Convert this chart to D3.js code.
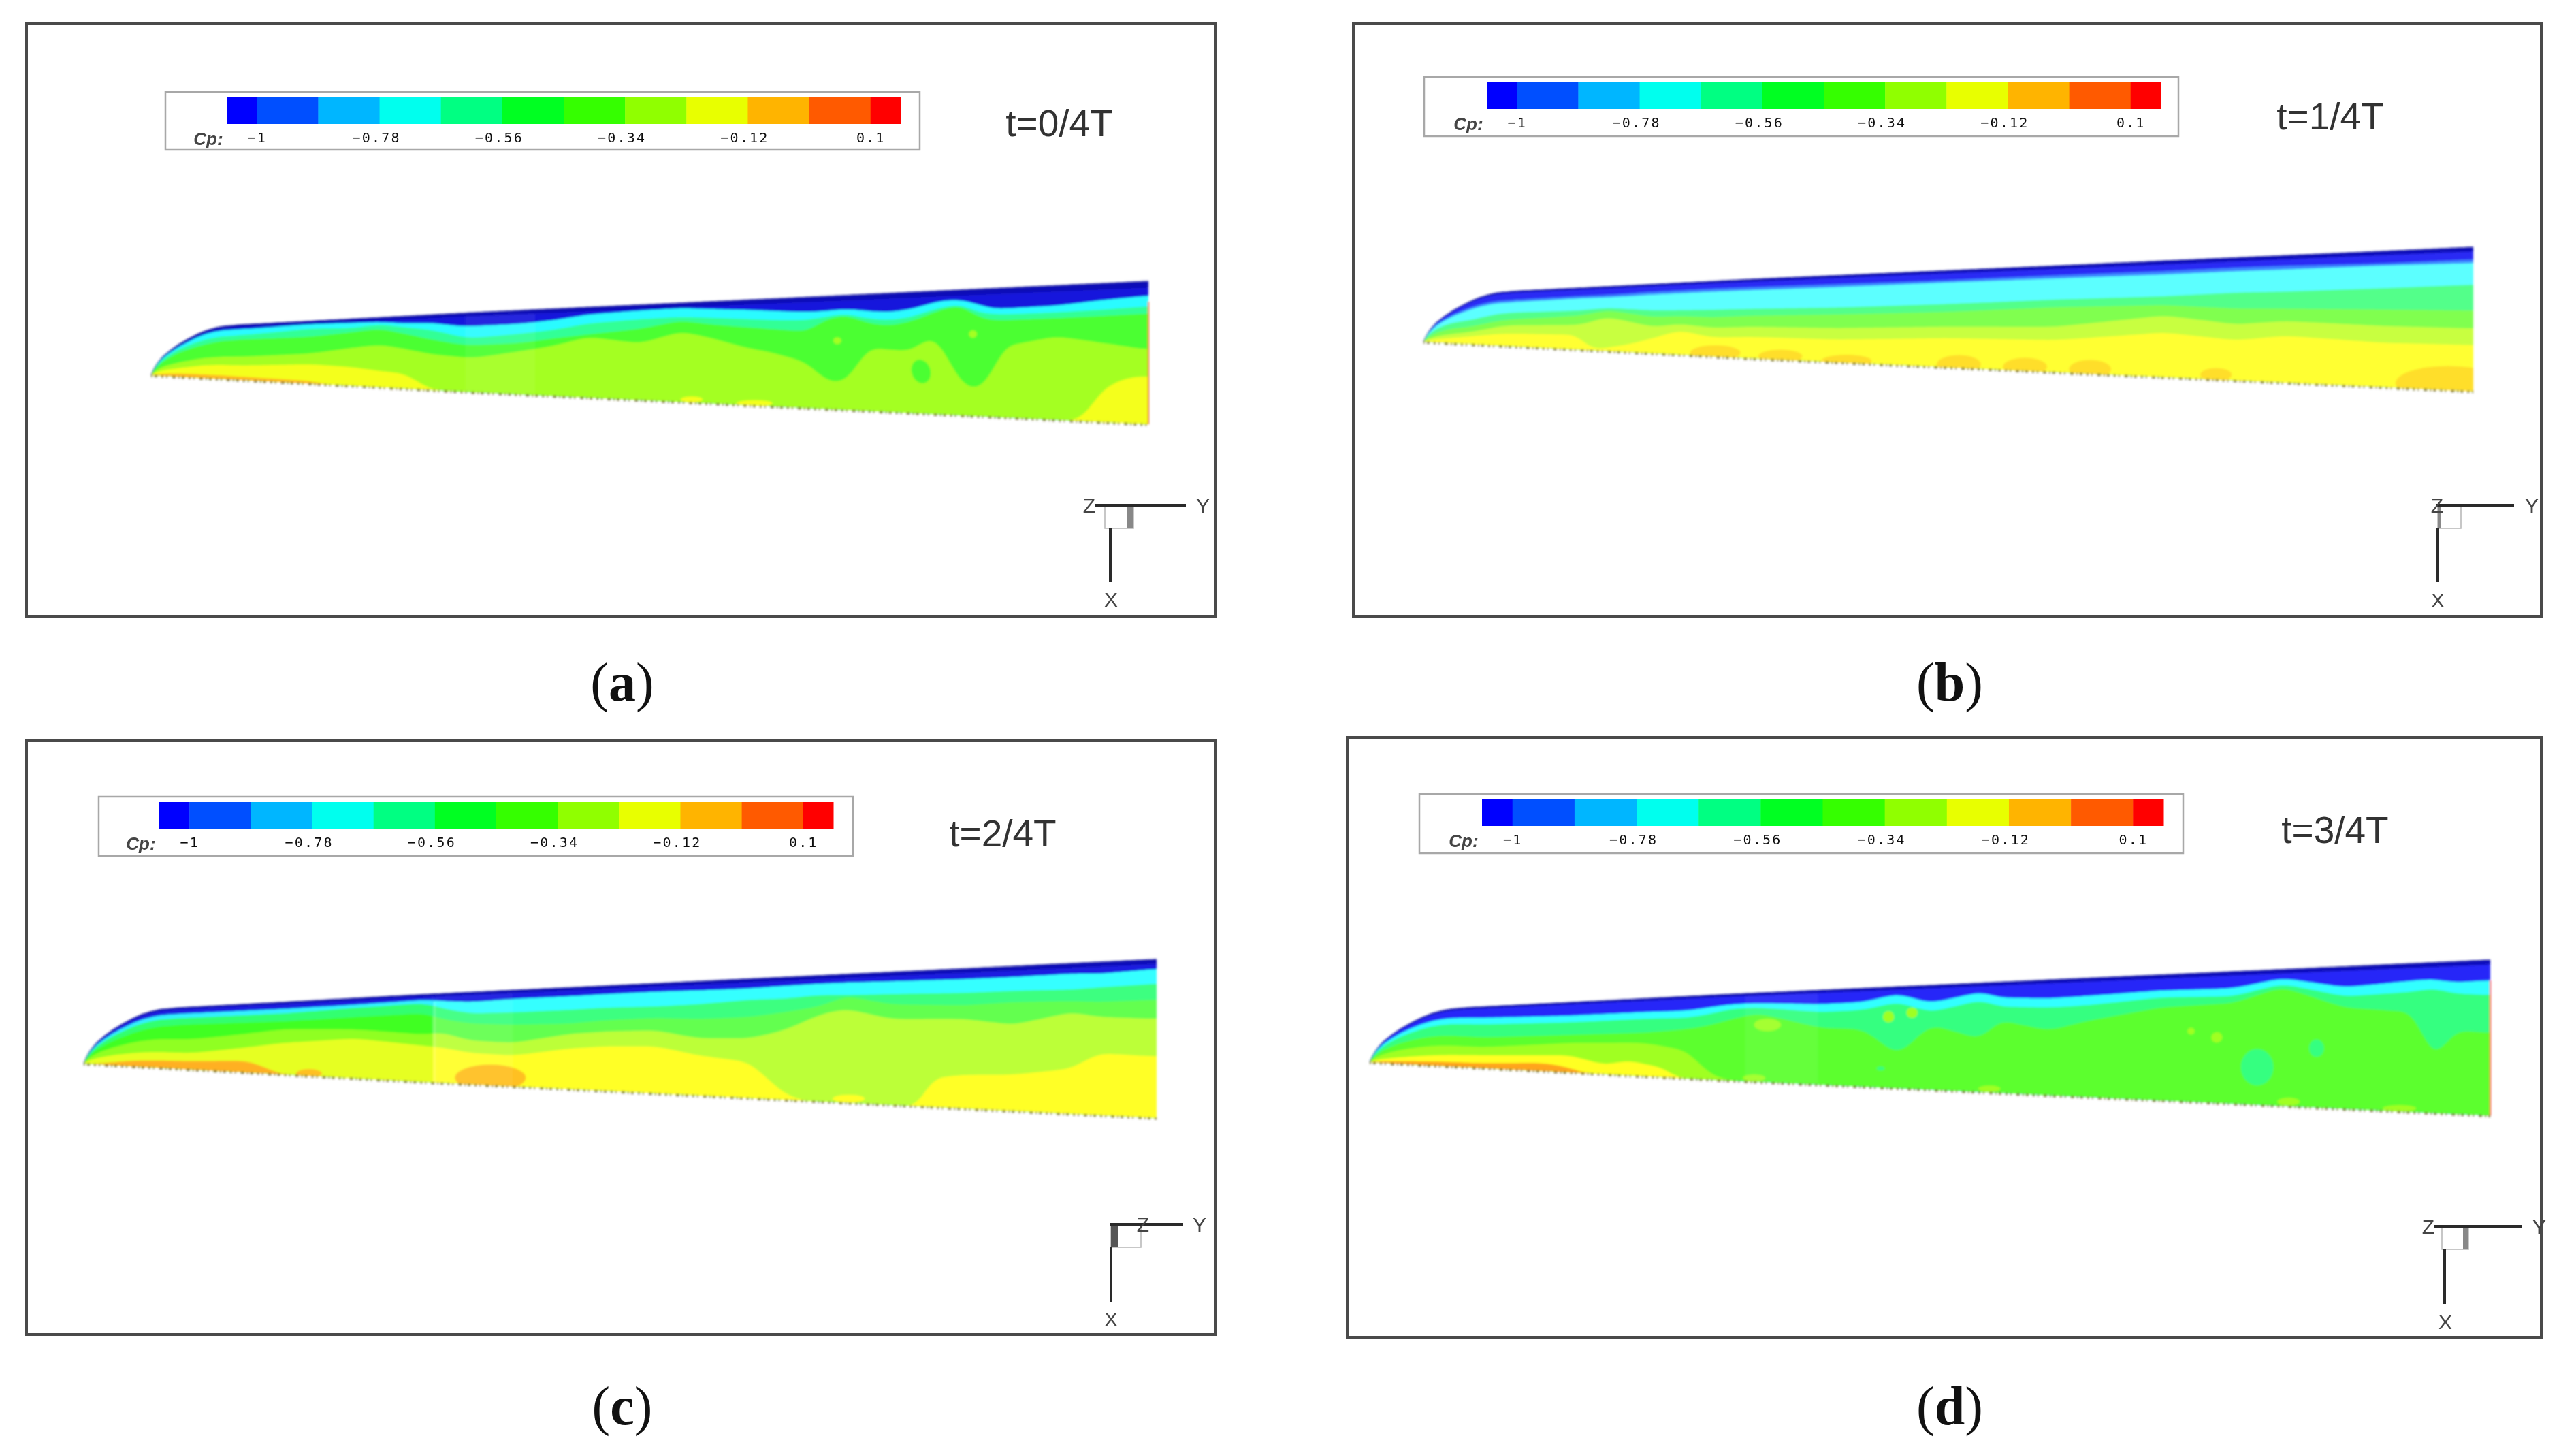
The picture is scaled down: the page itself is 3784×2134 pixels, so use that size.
<!DOCTYPE html>
<html><head><meta charset="utf-8">
<script src="https://cdnjs.cloudflare.com/ajax/libs/d3/7.8.5/d3.min.js"></script>
<style>html,body{margin:0;padding:0;background:#fff}svg{display:block}</style>
</head><body><svg id="chart" width="3784" height="2134"></svg>
<script>
// ---------- colour bar data ----------
const cpEdges = [-1.054,-1,-0.89,-0.78,-0.67,-0.56,-0.45,-0.34,-0.23,-0.12,-0.01,0.1,0.154];
const cpColours = ["#0000ff","#0650ff","#00b6ff","#00ffee","#00ff82","#00ff20","#35ff00","#90ff00","#e8ff00","#ffb400","#ff5a00","#ff0000"];
const cpTicks = [-1,-0.78,-0.56,-0.34,-0.12,0.1];
const cpTickLabels = ["−1","−0.78","−0.56","−0.34","−0.12","0.1"];
const axisNames = ["X","Y","Z"];

// ---------- wing outline (span %, leading edge rise, trailing edge drop) ----------
const wingSpan = [0,0.2,0.6,1.2,2,2.8,3.7,4.6,5.5,6.4,7.2,8.9,12,19.4,31.2,100];
const wingLE   = [0,0.05,0.125,0.2,0.27,0.33,0.385,0.435,0.475,0.503,0.52,0.536,0.553,0.594,0.66,1];
const wingTE   = [0,0.001,0.003,0.007,0.011,0.016,0.021,0.026,0.031,0.036,0.04,0.05,0.067,0.108,0.174,0.522];

// ---------- contour lines: chord position (% from leading edge) at span stations (%) ----------
// t = 0/4 T
const aEta = [0,2,5.5,8.9,15.9,20,22.9,25.3,28.1,31,32,36.8,40.3,43.75,49,53.1,56.24,59.4,62.5,65.7,67.8,69.7,71.9,74,76.3,77.9,79.1,80.7,81.3,82.9,84.4,85.4,90.7,95.4,100];
const aBlue  = [8,8,7,8,5,6,6.5,10,11,16.7,17,16,13,8,6,5.3,7.5,9.3,11.5,13.6,13,12,14.5,16,13.8,10.5,8,7.7,8,12,16,16,15,12,10];
const aCyan  = [15,15,19,19,12,13.4,10,15,20,30,32,28,24,18,15,14,16,18,20,20.8,18,16,21,22.7,20.4,16,13.7,11.7,12,18.3,20,20.5,20,19,17.5];
const aAqua  = [26,26,29,27,25,20,16,24,33,40,41,39,34,30,25,18,22.7,25.6,28.4,31,20,17.4,25,27.5,24,19,15.5,12.8,13,22,25,25,24.3,23.5,22.6];
const aGreen = [50,56,58,58,52,43.6,39,45,52.7,56,57.5,49,42.6,33,40.5,29,36,45,50.6,59,76,75.5,45.7,47.7,48.7,37.5,42,68,75,80,65.7,45.3,38,43,48];
const aLimeEta = [0,2,5.5,8.9,15.9,20,22.9,25.3,28.1,29,92.8,93.9,95.4,97.9,100];
const aLime    = [70,74,73,74,69,72,77,79,100,100,100,93,76,67.5,66.5];
const aYellowEta = [0,2,5.5,8.9,15.9,17.5,100];
const aYellow    = [90,90,93,94,96,100,100];
// t = 1/4 T
const bEta = [0,1,4.5,8,15,17.4,21.9,24.3,27.5,31.2,39.2,49.7,60,70.5,77.4,82,91.3,100];
const bBlue  = [10,10,15,15.6,13,13,11,10.7,10,10,10,10,9,8.8,8,8,9,8.6];
const bMid   = [15,15,20,20,16.6,16.7,15,14.5,14,13.8,13.4,12.2,12,11.7,11,11,10.5,11];
const bCyan  = [30,30,45,38.8,36.5,33,38,38,38,37.4,37,34.6,31.7,30.3,28.5,28.4,27.3,26];
const bAqua  = [50,50,60,51.5,44.7,36.6,47.6,46,48,46,44.9,42.8,39,38,41.5,41.8,43,44];
const bGreen = [70,70,72,62,60,47,62,57,62,60,60.6,58,57.4,47,54.4,51.6,55,56.4];
const bLimeEta = [0,1,4.5,8,15,15.6,19.1,21.9,24.3,27.5,31.2,39.2,49.7,60,70.5,77.4,82,91.3,100];
const bLime    = [85,85,82,77,76,100,90,78,66,75,73,74,70,70,61.6,67.4,63.2,67.4,68];
// t = 2/4 T
const cEta = [0,2.5,9.9,18.6,25.2,31.9,33.2,36,40,45.3,48.6,53.3,57.3,62,65.3,68.6,71,75.3,82,86.6,92,94.6,100];
const cBlue  = [10,10,10,9.4,8,6,8,10.6,9,8.7,8,7.6,8,8,7,6.5,6.5,7,7.6,7.5,6.8,7.6,6];
const cCyan  = [18,18,17,15.7,12,10,16,23,23,22,20.8,21,20,17.5,17.5,15.5,16.3,16.6,17.4,17,17.4,16.5,15.3];
const cAqua  = [32,32,28,26.7,23.5,21.5,28,34,36,35.6,32.7,31.4,33,32,28.6,24.5,17,24.3,26.3,24.8,25,26,25.4];
const cGreen = [50,50,52,37.6,39,46,43,52.6,54.8,45.6,43.5,42.8,50,50,43.4,31,27,35.4,36,40.5,32.5,35.8,37.6];
const cLimeEta = [0,2.5,9.9,18.6,25.2,31.9,33.2,36,40,45.3,48.6,53.3,57.3,62,65.3,67,78.2,78.5,80,82,86.6,92,94.6,100];
const cLime    = [72,72,74,56.4,50.4,59,60,66,68,60,57.6,57.2,65,70,95.4,100,100,81,78,76,75,70,59.6,61.3];
const cYellowEta = [0,3.8,9.9,15.2,17.2,18.2,100];
const cYellow    = [100,89,87,83,93,100,100];
// t = 3/4 T
const dEta = [0,2,9.9,17.8,24.4,28.3,30.3,32.3,34.6,40.2,44.1,47.1,50,54.7,56,60.6,64,70.5,77,81.4,87,93.2,94.9,96.8,100];
const dBlue  = [12,12,18,19,17.4,17.5,14.4,11.6,11.3,14.9,13.9,7,17,8,14,16.2,15,12.5,12.7,6.5,14.5,11.5,11,13.8,13];
const dCyan  = [22,22,29,28.6,26,26,22.5,16.8,16.4,23.3,22,15,25.7,15.4,22,24,22.8,18,18.7,10.6,21,19,17,21,22.6];
const dAqua  = [40,40,50,46.4,44,40,36,28.7,22.8,40,41.6,68,37.7,52,34,44,36,26,23.9,13,28.9,32.8,66,45,47];
const dGreenEta = [0,2,9.9,17.8,24.4,28.3,30.3,32,100];
const dGreen    = [60,60,66,58,57,66,94,100,100];
const dLimeEta = [0,2,9.9,17.8,21,23,25,26.5,27,100];
const dLime    = [82,82,79.5,75.6,88,80,86,88,100,100];
const dYellowEta = [0,2,9.9,15.5,17.8,19,100];
const dYellow    = [93,93,92.5,88,93,100,100];

// ---------- isolated contour islands: span %, chord %, half-widths ----------
const aIslands = {eta:[77.2,68.8,82.4,54.2,60.5], chord:[65.5,39.6,35.3,97,98], rEta:[0.94,0.4,0.4,1.1,1.8], rChord:[10,3,3,3,3], band:[3,4,4,5,5], tilt:[-18,0,0,0,0]};
const bIslands = {eta:[27.8,34,40.3,51,57.3,63.5,75.5,97.6], chord:[95,95.8,98,96.5,96,95.8,96,95], rEta:[2.4,2.1,2.4,2.1,2.1,2,1.5,5], rChord:[10,8,7,9.5,8.5,8.5,5.5,12], band:[7,7,7,7,7,7,7,7], tilt:[0,0,0,0,0,0,0,0]};
const cIslands = {eta:[37.9,21,71.3], chord:[92,97,96.8], rEta:[3.3,1.2,1.5], rChord:[14,6,3], band:[6,6,5], tilt:[0,0,0]};
const dIslands = {eta:[79.2,84.5,45.6,46.3,48.4,73.3,75.6,34.3,55.3,82,91.9,35.5], chord:[72,57.5,81,29.5,26,45,49.8,96,96.7,96.7,98,36], rEta:[1.45,0.66,0.35,0.5,0.5,0.33,0.5,1,1,1,1.5,1.2], rChord:[13.6,6.2,2,5.7,5,2.7,4,4,3,3,2.2,7], band:[2,2,2,4,4,4,4,4,4,4,4,4], tilt:[0,0,0,0,0,0,-8,0,0,0,0,0]};

// ---------- panels: layout and styling ----------
const panels = [
 {name:"a", title:"t=0/4T", frame:[39,34,1786,905], wing:[222,551,1687,413],
  legendBox:[243,135,1351,220], bar:[333,143,1323,182], titleAt:[1556,180], caption:[914,1029],
  triad:{y:742,h0:1608,h1:1742,box:[1623,1665,776],bar:[1656,1665,"#888"],xx:1631,xEnd:855,Z:[1600,742],Y:[1767,742],X:[1632,880]},
  contours:[[aEta,aBlue],[aEta,aCyan],[aEta,aAqua],[aEta,aGreen],[aLimeEta,aLime],[aYellowEta,aYellow]],
  colours:["#1818dc","#2cfbff","#32ff96","#4cff32","#a4ff22","#f4ff1e","#ffb820"],
  islands:aIslands, seam:[31.4,38.5], navy:4.5, tipEdge:"#e8602c"},
 {name:"b", title:"t=1/4T", frame:[1988,34,3733,905], wing:[2091,502,3633,363],
  legendBox:[2092,113,3200,200], bar:[2184,121,3174,160], titleAt:[3423,170], caption:[2864,1029],
  triad:{y:742,h0:3578,h1:3693,box:[3581,3615,776],bar:[3581,3586,"#888"],xx:3581,xEnd:855,Z:[3580,742],Y:[3719,742],X:[3581,881]},
  contours:[[bEta,bBlue],[bEta,bMid],[bEta,bCyan],[bEta,bAqua],[bEta,bGreen],[bLimeEta,bLime]],
  colours:["#2c2cf4","#3c86ff","#5cffff","#52ff8a","#80ff50","#c8ff40","#ffff30","#ffde2a"],
  islands:bIslands, navy:3},
 {name:"c", title:"t=2/4T", frame:[39,1088,1786,1960], wing:[123,1562,1699,1409],
  legendBox:[145,1170,1253,1257], bar:[234,1178,1224,1217], titleAt:[1473,1223], caption:[914,2092],
  triad:{y:1798,h0:1630,h1:1738,box:[1632,1676,1832],bar:[1632,1643,"#555"],xx:1632,xEnd:1912,Z:[1679,1798],Y:[1762,1798],X:[1632,1937]},
  contours:[[cEta,cBlue],[cEta,cCyan],[cEta,cAqua],[cEta,cGreen],[cLimeEta,cLime],[cYellowEta,cYellow]],
  colours:["#1a1ae0","#35ffff","#3cff80","#64ff50","#bcff38","#ffff28","#ffc020"],
  coloursLeft:["#1a1ae0","#30f0ff","#30ff70","#40ff22","#90ff20","#e6ff20","#ffb020"],
  islands:cIslands, seam:[32.7,40], navy:3, seamLine:true},
 {name:"d", title:"t=3/4T", frame:[1979,1083,3733,1964], wing:[2012,1560,3658,1410],
  legendBox:[2085,1166,3207,1253], bar:[2177,1174,3178,1213], titleAt:[3430,1218], caption:[2864,2092],
  triad:{y:1801,h0:3575,h1:3705,box:[3587,3626,1835],bar:[3618,3626,"#888"],xx:3591,xEnd:1915,Z:[3567,1801],Y:[3730,1801],X:[3592,1941]},
  contours:[[dEta,dBlue],[dEta,dCyan],[dEta,dAqua],[dGreenEta,dGreen],[dLimeEta,dLime],[dYellowEta,dYellow]],
  colours:["#2626f8","#30ffff","#36ff80","#5cff2e","#a0ff24","#ffff20","#ffa41c"],
  islands:dIslands, seam:[33.5,40], navy:3, tipEdge:"#ff3048"}
];

const svg = d3.select("#chart");
const defs = svg.append("defs");
[["soft",1.8],["textSoft",0.55]].forEach(([id,s]) =>
  defs.append("filter").attr("id",id).attr("x","-5%").attr("y","-5%").attr("width","110%").attr("height","110%")
      .append("feGaussianBlur").attr("stdDeviation",s));

const leAt = d3.scaleLinear().domain(wingSpan).range(wingLE);
const teAt = d3.scaleLinear().domain(wingSpan).range(wingTE);
const fine = d3.range(0,100.01,0.25);

// rounds the corners of a contour drawn between its read-off stations
function rounded(values, half) {
  const pass = v => v.map((_,i) => d3.mean(v.slice(Math.max(0,i-half), Math.min(v.length,i+half+1))));
  return pass(pass(values));
}

panels.forEach(p => {
  const g = svg.append("g").attr("class","panel-"+p.name);
  const [fx0,fy0,fx1,fy1] = p.frame;
  g.append("rect").attr("x",fx0).attr("y",fy0).attr("width",fx1-fx0).attr("height",fy1-fy0)
    .attr("fill","#fff").attr("stroke","#4a4a4a").attr("stroke-width",4);

  // wing scales
  const [wx0,wy0,wx1,wy1] = p.wing;
  const X = d3.scaleLinear().domain([0,100]).range([wx0,wx1]);
  const R = d3.scaleLinear().domain([0,1]).range([wy0,wy1]);
  const yLE = e => R(leAt(e));
  const yTE = e => R(-teAt(e));
  const yChord = (e,c) => yLE(e) + (yTE(e)-yLE(e))*c/100;

  const clipId = "clip-"+p.name;
  const outline = d3.area().x(X).y0(yLE).y1(yTE).curve(d3.curveLinear);
  defs.append("clipPath").attr("id",clipId).append("path").attr("d",outline(fine));

  const soft = g.append("g").attr("filter","url(#soft)");
  const w = soft.append("g").attr("clip-path",`url(#${clipId})`);

  const curves = p.contours.map(([eta,chord]) => {
    const at = d3.scaleLinear().domain(eta).range(chord);
    const smooth = rounded(fine.map(at), 3);
    return new Map(fine.map((e,i)=>[e,smooth[i]]));
  });
  const paintBands = (colours, from, to) => {
    const etas = fine.filter(e => e>=from-0.25 && e<=to);
    w.append("path").attr("d",outline(etas)).attr("fill",colours[0]);
    curves.forEach((curve,k) => {
      const area = d3.area().x(X).y0(e=>yChord(e,curve.get(e))).y1(yTE);
      w.append("path").attr("d",area(etas)).attr("fill",colours[k+1]);
    });
  };
  if (p.coloursLeft) {
    paintBands(p.coloursLeft,0,p.seam[0]);
    paintBands(p.colours,p.seam[0],100);
  } else paintBands(p.colours,0,100);

  // islands
  const isl = p.islands;
  w.selectAll("ellipse.island").data(isl.eta.map((e,i)=>i)).join("ellipse").attr("class","island")
    .attr("cx",i=>X(isl.eta[i])).attr("cy",i=>yChord(isl.eta[i],isl.chord[i]))
    .attr("rx",i=>X(isl.rEta[i])-X(0))
    .attr("ry",i=>(yTE(isl.eta[i])-yLE(isl.eta[i]))*isl.rChord[i]/100)
    .attr("transform",i=>`rotate(${isl.tilt[i]} ${X(isl.eta[i])} ${yChord(isl.eta[i],isl.chord[i])})`)
    .attr("fill",i=>p.colours[isl.band[i]]);

  // lighter block-boundary patch
  if (p.seam) {
    const etas = fine.filter(e=>e>=p.seam[0]&&e<=p.seam[1]);
    w.append("path").attr("d",outline(etas)).attr("fill","#fff").attr("opacity",0.06);
  }
  if (p.seamLine) {
    w.append("line").attr("x1",X(p.seam[0])).attr("x2",X(p.seam[0]))
      .attr("y1",yLE(p.seam[0])+12).attr("y2",yTE(p.seam[0])).attr("stroke","#fff").attr("stroke-width",3).attr("opacity",0.22);
  }

  // navy band right at the leading edge
  const navyArea = d3.area().x(X).y0(yLE).y1(e=>yChord(e,p.navy));
  w.append("path").attr("d",navyArea(fine)).attr("fill","#0c0cb0").attr("opacity",0.85);
  const leLine = d3.line().x(X).y(yLE);
  soft.append("path").attr("d",leLine(fine)).attr("fill","none").attr("stroke","#0a0a78").attr("stroke-width",1.5).attr("opacity",0.6);

  // tip edge
  if (p.tipEdge) soft.append("line").attr("x1",X(100)).attr("x2",X(100)).attr("y1",yLE(100)+30).attr("y2",yTE(100))
      .attr("stroke",p.tipEdge).attr("stroke-width",2);

  // jagged trailing edge
  const teLine = d3.line().x(X).y(e=>yTE(e)+1);
  soft.append("path").attr("d",teLine(fine)).attr("fill","none").attr("stroke","#5e5410")
    .attr("stroke-width",3.5).attr("stroke-dasharray","2 3 4 6 3 4 2 7 5 4").attr("opacity",0.75);

  // legend
  const lg = g.append("g").attr("filter","url(#textSoft)");
  const [bx0,by0,bx1,by1] = p.legendBox;
  lg.append("rect").attr("x",bx0).attr("y",by0).attr("width",bx1-bx0).attr("height",by1-by0)
    .attr("fill","#fff").attr("stroke","#a8a8a8").attr("stroke-width",2.5);
  const [cx0,cy0,cx1,cy1] = p.bar;
  const cp = d3.scaleLinear().domain([cpEdges[0],cpEdges[cpEdges.length-1]]).range([cx0,cx1]);
  lg.selectAll("rect.cell").data(cpColours).join("rect").attr("class","cell")
    .attr("x",(d,i)=>cp(cpEdges[i])).attr("y",cy0)
    .attr("width",(d,i)=>cp(cpEdges[i+1])-cp(cpEdges[i])+0.5).attr("height",cy1-cy0).attr("fill",d=>d);
  const ax = lg.append("g").attr("transform",`translate(0,${cy1})`)
    .call(d3.axisBottom(cp).tickValues(cpTicks).tickSize(0).tickPadding(13)
      .tickFormat((d,i)=>cpTickLabels[i]));
  ax.select(".domain").remove();
  ax.selectAll("text").attr("font-family","'DejaVu Sans Mono',monospace").attr("font-size",20)
    .attr("letter-spacing",2.2).attr("fill","#111")
    .attr("dx",(d,i)=> cpTickLabels[i].length>3 ? -5 : 0);
  lg.append("text").attr("x",cx0-27).attr("y",cy1+31).attr("text-anchor","middle")
    .attr("font-family","'Liberation Sans',sans-serif").attr("font-style","italic").attr("font-weight","bold")
    .attr("font-size",26).attr("fill","#444").text("Cp:");

  // time label
  g.append("text").attr("x",p.titleAt[0]).attr("y",p.titleAt[1]).attr("dy","0.36em").attr("text-anchor","middle")
    .attr("font-family","'Liberation Sans',sans-serif").attr("font-size",55).attr("fill","#333")
    .attr("filter","url(#textSoft)").text(p.title);

  // axes triad
  const t = p.triad, tg = g.append("g").attr("filter","url(#textSoft)");
  tg.append("rect").attr("x",t.box[0]).attr("y",t.y).attr("width",t.box[1]-t.box[0]).attr("height",t.box[2]-t.y)
    .attr("fill","#fff").attr("stroke","#b5b5b5").attr("stroke-width",1.5);
  tg.append("rect").attr("x",t.bar[0]).attr("y",t.y).attr("width",t.bar[1]-t.bar[0]).attr("height",t.box[2]-t.y).attr("fill",t.bar[2]);
  tg.append("line").attr("x1",t.h0).attr("x2",t.h1).attr("y1",t.y).attr("y2",t.y).attr("stroke","#2a2a2a").attr("stroke-width",4);
  tg.append("line").attr("x1",t.xx).attr("x2",t.xx).attr("y1",t.box[2]).attr("y2",t.xEnd).attr("stroke","#2a2a2a").attr("stroke-width",4);
  axisNames.forEach(n => tg.append("text").attr("x",t[n][0]).attr("y",t[n][1]).attr("dy","0.36em").attr("text-anchor","middle")
    .attr("font-family","'Liberation Sans',sans-serif").attr("font-size",30).attr("fill","#444").text(n));

  // caption
  const cap = g.append("text").attr("x",p.caption[0]).attr("y",p.caption[1]).attr("text-anchor","middle")
    .attr("font-family","'Liberation Serif',serif").attr("font-size",80).attr("fill","#111");
  cap.append("tspan").text("(");
  cap.append("tspan").attr("font-weight","bold").text(p.name);
  cap.append("tspan").text(")");
});
</script></body></html>
